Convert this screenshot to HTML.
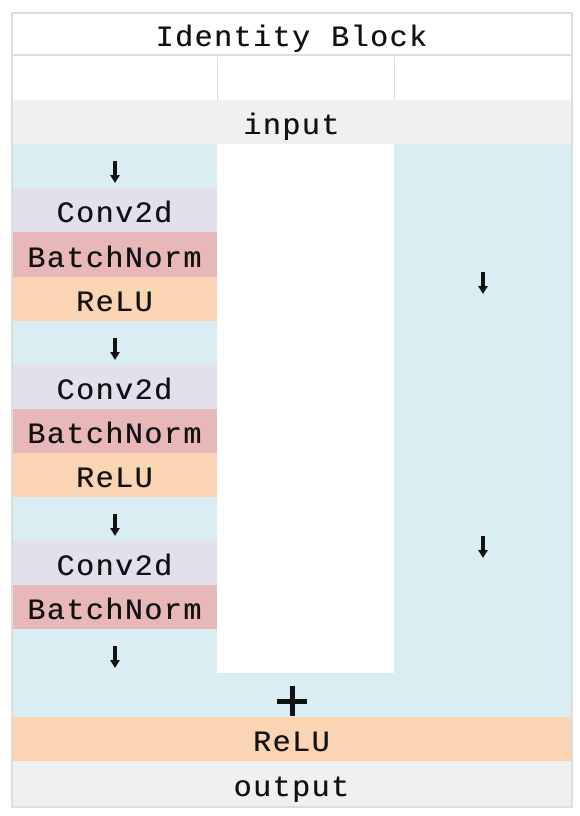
<!DOCTYPE html>
<html><head><style>
body{margin:0;width:580px;height:816px;background:#fff;position:relative;overflow:hidden;font-family:"Liberation Mono",monospace;}
.c{position:absolute;display:flex;align-items:center;justify-content:center;font-size:30px;letter-spacing:1.5px;color:#111;box-sizing:border-box;padding-top:10px;text-shadow:0.4px 0 0 #111;}
.ar{position:relative;width:10px;height:22px;margin-top:2px}
.ar:before{content:"";position:absolute;left:3px;top:0;width:4px;height:15px;background:#111}
.ar:after{content:"";position:absolute;left:0;top:14px;border-left:5px solid transparent;border-right:5px solid transparent;border-top:8px solid #111}
</style></head><body>
<div style="position:absolute;left:11px;top:12px;width:562px;height:796px;border:2px solid #ddd;box-sizing:border-box"></div>
<div class="c" style="left:13px;top:14px;width:558px;height:42px;border-bottom:2px solid #ddd;padding-top:10px">Identity Block</div>
<div style="position:absolute;left:217px;top:57px;width:1px;height:43px;background:#ddd"></div>
<div style="position:absolute;left:394px;top:57px;width:1px;height:43px;background:#ddd"></div>
<div class="c" style="left:13px;top:100px;width:558px;height:44px;background:#f0f0f0">input</div>
<div class="c" style="left:13px;top:144px;width:204px;height:44px;background:#daedf2"><div class="ar"></div></div>
<div class="c" style="left:13px;top:188px;width:204px;height:44px;background:#e3dfec">Conv2d</div>
<div class="c" style="left:13px;top:232px;width:204px;height:45px;background:#e8b8b8">BatchNorm</div>
<div class="c" style="left:13px;top:277px;width:204px;height:44px;background:#fbd5b3">ReLU</div>
<div class="c" style="left:13px;top:321px;width:204px;height:44px;background:#daedf2"><div class="ar"></div></div>
<div class="c" style="left:13px;top:365px;width:204px;height:44px;background:#e3dfec">Conv2d</div>
<div class="c" style="left:13px;top:409px;width:204px;height:44px;background:#e8b8b8">BatchNorm</div>
<div class="c" style="left:13px;top:453px;width:204px;height:44px;background:#fbd5b3">ReLU</div>
<div class="c" style="left:13px;top:497px;width:204px;height:44px;background:#daedf2"><div class="ar"></div></div>
<div class="c" style="left:13px;top:541px;width:204px;height:44px;background:#e3dfec">Conv2d</div>
<div class="c" style="left:13px;top:585px;width:204px;height:44px;background:#e8b8b8">BatchNorm</div>
<div class="c" style="left:13px;top:629px;width:204px;height:44px;background:#daedf2"><div class="ar"></div></div>
<div class="c" style="left:394px;top:144px;width:177px;height:265px;background:#daedf2"><div class="ar"></div></div>
<div class="c" style="left:394px;top:409px;width:177px;height:264px;background:#daedf2"><div class="ar"></div></div>
<div class="c" style="left:13px;top:673px;width:558px;height:44px;background:#daedf2;padding-top:0">
<div style="position:relative;width:30px;height:30px;margin-top:12px"><div style="position:absolute;left:0;top:13px;width:30px;height:5px;background:#111"></div><div style="position:absolute;left:13px;top:0;width:5px;height:30px;background:#111"></div></div></div>
<div class="c" style="left:13px;top:717px;width:558px;height:44px;background:#fbd5b3">ReLU</div>
<div class="c" style="left:13px;top:761px;width:558px;height:45px;background:#f0f0f0">output</div>
</body></html>
